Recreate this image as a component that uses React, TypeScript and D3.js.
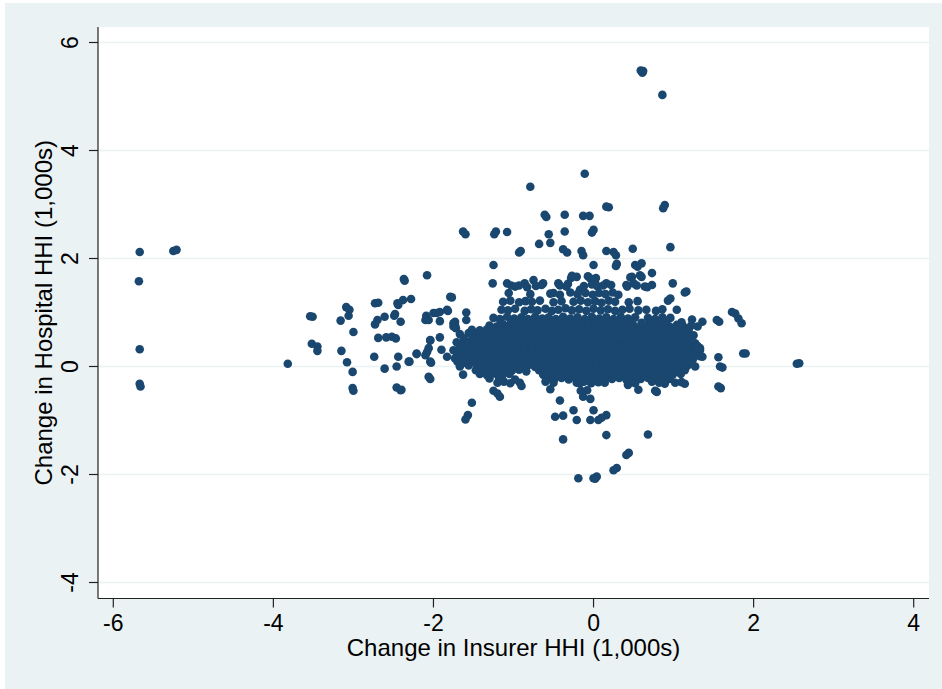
import React from "react";
import * as d3 from "d3";

// Change in insurer HHI (x) vs change in hospital HHI (y), both in 1,000s.
type Pt = [number, number];

const xTicks = [-6, -4, -2, 0, 2, 4];
const yTicks = [-4, -2, 0, 2, 4, 6];
const xTitle = "Change in Insurer HHI (1,000s)";
const yTitle = "Change in Hospital HHI (1,000s)";

const farLeftPoints: Pt[] = [
  [-5.67, 2.12], [-5.25, 2.14], [-5.21, 2.16], [-5.68, 1.58], [-5.67, 0.32],
  [-5.67, -0.32], [-5.66, -0.37], [-3.82, 0.05],
];

const leftClusterPoints: Pt[] = [
  [-3.54, 0.93], [-3.51, 0.92], [-3.52, 0.42], [-3.45, 0.37], [-3.45, 0.29],
  [-3.09, 1.10], [-3.05, 1.05], [-3.06, 0.94], [-3.16, 0.85], [-3.0, 0.64], [-3.15, 0.29],
  [-3.08, 0.08], [-3.01, -0.10], [-3.01, -0.40], [-3.0, -0.45],
  [-2.74, 0.18], [-2.73, 1.17], [-2.69, 1.18], [-2.70, 0.86], [-2.73, 0.78], [-2.61, 0.92],
  [-2.69, 0.53], [-2.59, 0.54], [-2.52, 0.55], [-2.47, 0.52], [-2.61, -0.04], [-2.49, 0.94],
  [-2.45, 1.17], [-2.46, 0.0], [-2.44, 0.18], [-2.46, -0.39], [-2.41, -0.44],
  [-2.48, 0.97], [-2.41, 0.83], [-2.44, 1.14], [-2.38, 1.23], [-2.28, 1.25], [-2.37, 1.62],
  [-2.36, 1.59], [-2.30, 0.09], [-2.21, 0.23], [-2.21, 0.24], [-2.31, 0.09], [-2.40, -0.43],
  [-2.08, 1.69], [-2.09, 0.94], [-2.06, 0.86], [-2.10, 0.86], [-2.0, 0.99], [-1.96, 0.99],
  [-1.92, 1.01], [-1.83, 1.05], [-1.82, 1.03], [-1.77, 1.28], [-1.79, 1.29], [-1.92, 0.84],
  [-1.75, 0.74], [-1.73, 0.83], [-1.75, 0.80], [-1.92, 0.54], [-2.04, 0.48], [-2.04, 0.49],
  [-2.08, 0.27], [-2.06, 0.34], [-2.10, 0.21], [-2.03, 0.07], [-2.04, 0.09], [-1.90, 0.31],
  [-1.83, 0.18], [-2.06, -0.19], [-2.04, -0.23], [-1.71, 0.27], [-1.70, 0.09],
  [-1.59, 1.0], [-1.59, 0.86], [-1.52, -0.67], [-1.60, -0.98], [-1.57, -0.90],
];

const upperOutlierPoints: Pt[] = [
  [0.59, 5.48], [0.61, 5.44], [0.62, 5.47], [0.86, 5.03], [-0.11, 3.57], [-0.79, 3.33],
  [-0.61, 2.81], [-0.59, 2.77], [-0.36, 2.81], [-0.13, 2.79], [-0.05, 2.79], [0.16, 2.96],
  [0.19, 2.95], [0.89, 2.99], [0.87, 2.93],
  [-0.56, 2.45], [-0.36, 2.50], [-0.02, 2.48], [0.0, 2.53], [-1.63, 2.50], [-1.60, 2.45],
  [-1.22, 2.50], [-1.24, 2.45], [-1.08, 2.49], [-0.93, 2.11], [-0.91, 2.14],
  [-0.68, 2.27], [-0.54, 2.29], [-0.38, 2.17], [-0.33, 2.11], [-0.15, 2.14], [-0.13, 2.06],
  [0.16, 2.14], [0.25, 2.12], [0.28, 2.06], [0.49, 2.18], [0.96, 2.21],
  [-1.25, 1.88], [0.0, 1.88], [0.29, 1.90], [0.28, 1.86], [0.52, 1.88], [0.60, 1.91], [0.55, 1.85],
];

const upperBandPoints: Pt[] = [
  [-1.26, 1.54], [-1.08, 1.54], [-0.98, 1.48], [-0.86, 1.54], [-0.75, 1.60], [-0.63, 1.54],
  [-0.50, 1.36], [-0.44, 1.54], [-0.34, 1.48], [-0.27, 1.68], [-0.17, 1.42], [-0.04, 1.63],
  [0.02, 1.55], [0.16, 1.54], [0.41, 1.51], [0.48, 1.66], [0.58, 1.69], [0.73, 1.73],
  [0.50, 1.54], [0.64, 1.48], [0.73, 1.51], [0.99, 1.54], [1.16, 1.39], [0.96, 1.26],
  [-0.28, 1.64], [-0.21, 1.66], [-0.07, 1.67], [0.03, 1.64], [0.46, 1.65], [0.60, 1.66],
  [-1.03, 1.50], [-0.93, 1.50], [-0.83, 1.47], [-0.72, 1.49], [-0.65, 1.51], [-0.42, 1.50],
  [-0.32, 1.53], [-0.12, 1.49], [-0.02, 1.52], [0.05, 1.48], [0.12, 1.50], [0.22, 1.51],
  [0.42, 1.48], [0.54, 1.50], [0.67, 1.47],
  [-1.06, 1.36], [-0.79, 1.34], [-0.54, 1.35], [-0.42, 1.33], [-0.29, 1.37], [-0.20, 1.34],
  [-0.10, 1.36], [-0.01, 1.33], [0.07, 1.36], [0.15, 1.34], [0.24, 1.37], [0.31, 1.33], [1.14, 1.37],
  [-1.13, 1.20], [-1.04, 1.22], [-0.93, 1.19], [-0.85, 1.21], [-0.77, 1.20], [-0.67, 1.22],
  [-0.50, 1.19], [-0.40, 1.21], [-0.25, 1.20], [-0.16, 1.22], [-0.07, 1.19], [0.02, 1.21],
  [0.10, 1.18], [0.19, 1.22], [0.27, 1.20], [0.44, 1.19], [0.55, 1.21], [0.93, 1.22],
];

const midBandPoints: Pt[] = [
  [-1.15, 1.05], [-1.07, 1.04], [-0.98, 1.07], [-0.86, 1.03], [-0.78, 1.06], [-0.70, 1.04],
  [-0.60, 1.07], [-0.52, 1.03], [-0.44, 1.05], [-0.35, 1.08], [-0.27, 1.04], [-0.18, 1.06],
  [-0.09, 1.03], [0.0, 1.07], [0.09, 1.04], [0.18, 1.06], [0.27, 1.03], [0.36, 1.05],
  [0.45, 1.07], [0.56, 1.04], [0.66, 1.05], [0.78, 1.03], [0.86, 1.06], [1.04, 1.05],
  [-1.25, 0.90], [-1.17, 0.88], [-1.08, 0.92], [-0.99, 0.89], [-0.90, 0.91], [-0.82, 0.88],
  [-0.73, 0.92], [-0.64, 0.89], [-0.56, 0.91], [-0.47, 0.88], [-0.38, 0.92], [-0.29, 0.89],
  [-0.20, 0.91], [-0.11, 0.88], [-0.02, 0.92], [0.07, 0.89], [0.16, 0.91], [0.25, 0.88],
  [0.34, 0.92], [0.43, 0.89], [0.52, 0.91], [0.68, 0.90], [0.77, 0.88], [0.86, 0.91],
  [0.96, 0.90], [1.23, 0.87], [1.36, 0.83],
  [-1.73, 0.77], [-1.72, 0.71], [-1.30, 0.76], [-1.21, 0.74], [-1.12, 0.77], [-1.03, 0.73],
  [-0.94, 0.76], [-0.85, 0.74], [-0.76, 0.77], [-0.67, 0.73], [-0.58, 0.76], [-0.49, 0.74],
  [-0.40, 0.77], [-0.31, 0.73], [-0.22, 0.76], [-0.13, 0.74], [-0.04, 0.77], [0.05, 0.73],
  [0.14, 0.76], [0.23, 0.74], [0.32, 0.77], [0.41, 0.73], [0.50, 0.76], [0.59, 0.74],
  [0.68, 0.77], [0.77, 0.73], [0.86, 0.76], [0.95, 0.74], [1.04, 0.77], [1.13, 0.73],
  [1.22, 0.76], [1.30, 0.74],
  [-1.67, 0.60], [-1.56, 0.62], [-1.46, 0.59], [-1.37, 0.61], [-1.28, 0.58], [-1.19, 0.62],
  [-1.10, 0.60], [-1.01, 0.58], [-0.92, 0.62], [-0.83, 0.59], [-0.74, 0.61], [-0.65, 0.58],
  [-0.56, 0.62], [-0.47, 0.60], [-0.38, 0.58], [-0.29, 0.62], [-0.20, 0.59], [-0.11, 0.61],
  [-0.02, 0.58], [0.07, 0.62], [0.16, 0.60], [0.25, 0.58], [0.34, 0.62], [0.43, 0.59],
  [0.52, 0.61], [0.61, 0.58], [0.70, 0.62], [0.79, 0.60], [0.88, 0.58], [0.97, 0.62],
  [1.06, 0.59], [1.15, 0.61], [1.25, 0.58],
];

const centerBandPoints: Pt[] = [
  [-1.71, 0.45], [-1.62, 0.43], [-1.53, 0.47], [-1.44, 0.44], [-1.35, 0.46], [-1.26, 0.43],
  [-1.17, 0.47], [-1.08, 0.44], [-0.99, 0.46], [-0.90, 0.43], [-0.81, 0.47], [-0.72, 0.44],
  [-0.63, 0.46], [-0.54, 0.43], [-0.45, 0.47], [-0.36, 0.44], [-0.27, 0.46], [-0.18, 0.43],
  [-0.09, 0.47], [0.0, 0.44], [0.09, 0.46], [0.18, 0.43], [0.27, 0.47], [0.36, 0.44],
  [0.45, 0.46], [0.54, 0.43], [0.63, 0.47], [0.72, 0.44], [0.81, 0.46], [0.90, 0.43],
  [0.99, 0.47], [1.08, 0.44], [1.17, 0.46], [1.27, 0.43],
  [-1.75, 0.30], [-1.66, 0.32], [-1.57, 0.29], [-1.48, 0.31], [-1.39, 0.28], [-1.30, 0.32],
  [-1.21, 0.29], [-1.12, 0.31], [-1.03, 0.28], [-0.94, 0.32], [-0.85, 0.29], [-0.76, 0.31],
  [-0.67, 0.28], [-0.58, 0.32], [-0.49, 0.29], [-0.40, 0.31], [-0.31, 0.28], [-0.22, 0.32],
  [-0.13, 0.29], [-0.04, 0.31], [0.05, 0.28], [0.14, 0.32], [0.23, 0.29], [0.32, 0.31],
  [0.41, 0.28], [0.50, 0.32], [0.59, 0.29], [0.68, 0.31], [0.77, 0.28], [0.86, 0.32],
  [0.95, 0.29], [1.04, 0.31], [1.13, 0.28], [1.22, 0.32], [1.33, 0.30],
  [-1.73, 0.15], [-1.64, 0.13], [-1.55, 0.17], [-1.46, 0.14], [-1.37, 0.16], [-1.28, 0.13],
  [-1.19, 0.17], [-1.10, 0.14], [-1.01, 0.16], [-0.92, 0.13], [-0.83, 0.17], [-0.74, 0.14],
  [-0.65, 0.16], [-0.56, 0.13], [-0.47, 0.17], [-0.38, 0.14], [-0.29, 0.16], [-0.20, 0.13],
  [-0.11, 0.17], [-0.02, 0.14], [0.07, 0.16], [0.16, 0.13], [0.25, 0.17], [0.34, 0.14],
  [0.43, 0.16], [0.52, 0.13], [0.61, 0.17], [0.70, 0.14], [0.79, 0.16], [0.88, 0.13],
  [0.97, 0.17], [1.06, 0.14], [1.15, 0.16], [1.24, 0.13], [1.36, 0.18],
  [-1.67, 0.0], [-1.56, 0.02], [-1.45, -0.01], [-1.36, 0.02], [-1.27, -0.01], [-1.18, 0.01],
  [-1.09, -0.02], [-1.00, 0.01], [-0.91, -0.01], [-0.82, 0.02], [-0.73, -0.01], [-0.64, 0.01],
  [-0.55, -0.02], [-0.46, 0.01], [-0.37, -0.01], [-0.28, 0.02], [-0.19, -0.01], [-0.10, 0.01],
  [-0.01, -0.02], [0.08, 0.01], [0.17, -0.01], [0.26, 0.02], [0.35, -0.01], [0.44, 0.01],
  [0.53, -0.02], [0.62, 0.01], [0.71, -0.01], [0.80, 0.02], [0.89, -0.01], [0.98, 0.01],
  [1.07, -0.02], [1.17, 0.01], [1.27, 0.0],
];

// Staggered markets lying between the rows above, which close up the dense core.
const coreFillPoints: Pt[] = [
  [-1.16, 0.83], [-1.03, 0.82], [-0.95, 0.84], [-0.87, 0.81], [-0.78, 0.83], [-0.69, 0.82],
  [-0.60, 0.84], [-0.51, 0.81], [-0.42, 0.83], [-0.33, 0.82], [-0.24, 0.84], [-0.15, 0.81],
  [-0.06, 0.83], [0.03, 0.82], [0.12, 0.84], [0.21, 0.81], [0.30, 0.83], [0.39, 0.82],
  [0.48, 0.84], [0.60, 0.81], [0.72, 0.83], [0.82, 0.82], [0.91, 0.84], [1.10, 0.82],
  [-1.52, 0.68], [-1.42, 0.67], [-1.33, 0.69], [-1.24, 0.66], [-1.15, 0.68], [-1.06, 0.67],
  [-0.97, 0.69], [-0.88, 0.66], [-0.79, 0.68], [-0.70, 0.67], [-0.61, 0.69], [-0.52, 0.66],
  [-0.43, 0.68], [-0.34, 0.67], [-0.25, 0.69], [-0.16, 0.66], [-0.07, 0.68], [0.02, 0.67],
  [0.11, 0.69], [0.20, 0.66], [0.29, 0.68], [0.38, 0.67], [0.47, 0.69], [0.56, 0.66],
  [0.65, 0.68], [0.74, 0.67], [0.83, 0.69], [0.92, 0.66], [1.01, 0.68], [1.10, 0.67], [1.19, 0.69],
  [-1.62, 0.52], [-1.51, 0.53], [-1.40, 0.51], [-1.31, 0.54], [-1.22, 0.52], [-1.13, 0.53],
  [-1.04, 0.51], [-0.95, 0.54], [-0.86, 0.52], [-0.77, 0.53], [-0.68, 0.51], [-0.59, 0.54],
  [-0.50, 0.52], [-0.41, 0.53], [-0.32, 0.51], [-0.23, 0.54], [-0.14, 0.52], [-0.05, 0.53],
  [0.04, 0.51], [0.13, 0.54], [0.22, 0.52], [0.31, 0.53], [0.40, 0.51], [0.49, 0.54],
  [0.58, 0.52], [0.67, 0.53], [0.76, 0.51], [0.85, 0.54], [0.94, 0.52], [1.03, 0.53],
  [1.12, 0.51], [1.21, 0.54],
  [-1.67, 0.37], [-1.58, 0.38], [-1.49, 0.36], [-1.40, 0.39], [-1.31, 0.37], [-1.22, 0.38],
  [-1.13, 0.36], [-1.04, 0.39], [-0.95, 0.37], [-0.86, 0.38], [-0.77, 0.36], [-0.68, 0.39],
  [-0.59, 0.37], [-0.50, 0.38], [-0.41, 0.36], [-0.32, 0.39], [-0.23, 0.37], [-0.14, 0.38],
  [-0.05, 0.36], [0.04, 0.39], [0.13, 0.37], [0.22, 0.38], [0.31, 0.36], [0.40, 0.39],
  [0.49, 0.37], [0.58, 0.38], [0.67, 0.36], [0.76, 0.39], [0.85, 0.37], [0.94, 0.38],
  [1.03, 0.36], [1.12, 0.39], [1.21, 0.37], [1.30, 0.38],
  [-1.70, 0.22], [-1.61, 0.23], [-1.52, 0.21], [-1.43, 0.24], [-1.34, 0.22], [-1.25, 0.23],
  [-1.16, 0.21], [-1.07, 0.24], [-0.98, 0.22], [-0.89, 0.23], [-0.80, 0.21], [-0.71, 0.24],
  [-0.62, 0.22], [-0.53, 0.23], [-0.44, 0.21], [-0.35, 0.24], [-0.26, 0.22], [-0.17, 0.23],
  [-0.08, 0.21], [0.01, 0.24], [0.10, 0.22], [0.19, 0.23], [0.28, 0.21], [0.37, 0.24],
  [0.46, 0.22], [0.55, 0.23], [0.64, 0.21], [0.73, 0.24], [0.82, 0.22], [0.91, 0.23],
  [1.00, 0.21], [1.09, 0.24], [1.18, 0.22], [1.28, 0.23],
  [-1.62, 0.07], [-1.51, 0.08], [-1.41, 0.06], [-1.32, 0.09], [-1.23, 0.07], [-1.14, 0.08],
  [-1.05, 0.06], [-0.96, 0.09], [-0.87, 0.07], [-0.78, 0.08], [-0.69, 0.06], [-0.60, 0.09],
  [-0.51, 0.07], [-0.42, 0.08], [-0.33, 0.06], [-0.24, 0.09], [-0.15, 0.07], [-0.06, 0.08],
  [0.03, 0.06], [0.12, 0.09], [0.21, 0.07], [0.30, 0.08], [0.39, 0.06], [0.48, 0.09],
  [0.57, 0.07], [0.66, 0.08], [0.75, 0.06], [0.84, 0.09], [0.93, 0.07], [1.02, 0.08],
  [1.12, 0.06], [1.22, 0.08],
  [-1.47, -0.07], [-1.38, -0.08], [-1.29, -0.06], [-1.20, -0.09], [-1.11, -0.07], [-1.02, -0.08],
  [-0.93, -0.06], [-0.84, -0.09], [-0.68, -0.07], [-0.59, -0.08], [-0.50, -0.06], [-0.41, -0.09],
  [-0.32, -0.07], [-0.23, -0.08], [-0.14, -0.06], [-0.05, -0.09], [0.04, -0.07], [0.13, -0.08],
  [0.22, -0.06], [0.31, -0.09], [0.40, -0.07], [0.49, -0.08], [0.58, -0.06], [0.67, -0.09],
  [0.76, -0.07], [0.85, -0.08], [0.94, -0.06], [1.04, -0.09], [1.14, -0.07],
  [-0.58, -0.22], [-0.49, -0.23], [-0.40, -0.21], [-0.31, -0.24], [-0.22, -0.22], [-0.13, -0.23],
  [-0.04, -0.21], [0.05, -0.24], [0.14, -0.22], [0.23, -0.23], [0.32, -0.21], [0.41, -0.24],
  [0.50, -0.22], [0.59, -0.23], [0.68, -0.21], [0.77, -0.24], [0.86, -0.22], [0.95, -0.23],
  [-1.30, -0.22], [-1.18, -0.21], [-0.98, -0.24],
];

const lowerBandPoints: Pt[] = [
  [-1.63, -0.15], [-1.42, -0.14], [-1.33, -0.16], [-1.24, -0.13], [-1.14, -0.16], [-1.05, -0.14],
  [-0.63, -0.15], [-0.54, -0.13], [-0.45, -0.16], [-0.36, -0.14], [-0.27, -0.16], [-0.18, -0.13],
  [-0.09, -0.15], [0.0, -0.14], [0.09, -0.16], [0.18, -0.13], [0.27, -0.15], [0.36, -0.14],
  [0.45, -0.16], [0.54, -0.13], [0.63, -0.15], [0.72, -0.14], [0.81, -0.16], [0.90, -0.13],
  [0.99, -0.15], [1.09, -0.14],
  [-1.20, -0.30], [-1.12, -0.28], [-1.04, -0.31], [-0.92, -0.30], [-0.60, -0.28], [-0.50, -0.30],
  [-0.21, -0.30], [-0.12, -0.28], [-0.03, -0.31], [0.06, -0.29], [0.14, -0.30], [0.43, -0.29],
  [0.52, -0.31], [0.73, -0.28], [0.82, -0.30], [0.89, -0.32], [1.02, -0.30], [1.10, -0.29],
  [-1.25, -0.45], [-1.20, -0.50], [-0.16, -0.45], [-0.08, -0.44], [0.56, -0.43], [0.77, -0.45],
  [-0.90, -0.36], [-0.54, -0.42], [-0.17, -0.31], [0.43, -0.34], [0.79, -0.47], [1.14, -0.32],
  [-1.17, -0.56], [-0.13, -0.56], [-0.04, -0.60], [-0.42, -0.63],
  [-0.48, -0.93], [-0.38, -0.91], [-0.25, -0.81], [-0.21, -0.99], [-0.04, -0.99], [0.0, -0.81],
  [0.16, -0.90], [0.06, -0.99], [0.10, -0.95], [0.16, -1.27], [0.68, -1.26], [-0.38, -1.35],
  [0.41, -1.64], [0.44, -1.60], [0.25, -1.92], [0.29, -1.88], [-0.19, -2.07], [0.0, -2.07],
  [0.04, -2.04], [0.02, -2.08],
];

const rightTailPoints: Pt[] = [
  [1.73, 1.01], [1.77, 0.98], [1.81, 0.89], [1.85, 0.80], [1.54, 0.86], [1.57, 0.83],
  [1.33, 0.34], [1.33, 0.19], [1.56, 0.17], [1.58, 0.0], [1.61, -0.02], [1.56, -0.37],
  [1.59, -0.40], [1.87, 0.24], [1.90, 0.24], [2.54, 0.05], [2.57, 0.06],
];

const allPoints: Pt[] = [
  ...farLeftPoints,
  ...leftClusterPoints,
  ...upperOutlierPoints,
  ...upperBandPoints,
  ...midBandPoints,
  ...centerBandPoints,
  ...coreFillPoints,
  ...lowerBandPoints,
  ...rightTailPoints,
];

const W = 942;
const H = 689;
const plot = { left: 98, right: 929, top: 27, bottom: 598.5 };

const x = d3.scaleLinear().domain([-6, 4]).range([113.3, 913.7]);
const y = d3.scaleLinear().domain([-4, 6]).range([582.5, 42.5]);

const BG = "#eaf2f3";
const MARKER = "#1a476f";
const FONT = "'Liberation Sans', Arial, Helvetica, sans-serif";

export default function App() {
  return (
    <div style={{ position: "absolute", left: 0, top: 0, width: W, height: H, background: "#fff" }}>
      <svg width={W} height={H} style={{ display: "block" }}>
        <rect x={5} y={3} width={W - 5} height={H - 3} fill={BG} />
        <rect
          x={plot.left}
          y={plot.top}
          width={plot.right - plot.left}
          height={plot.bottom - plot.top}
          fill="#fff"
        />
        {yTicks.map((t) => (
          <line
            key={`g${t}`}
            x1={plot.left}
            x2={plot.right}
            y1={y(t)}
            y2={y(t)}
            stroke={BG}
            strokeWidth={1.6}
          />
        ))}
        <g>
          {allPoints.map(([px, py], i) => (
            <circle key={i} cx={x(px)} cy={y(py)} r={4.3} fill={MARKER} />
          ))}
        </g>
        <line x1={plot.left} x2={plot.left} y1={plot.top} y2={plot.bottom} stroke="#222" strokeWidth={1.2} />
        <line x1={plot.left} x2={plot.right} y1={plot.bottom} y2={plot.bottom} stroke="#222" strokeWidth={1.2} />
        {yTicks.map((t) => (
          <g key={`yt${t}`}>
            <line x1={plot.left - 9} x2={plot.left} y1={y(t)} y2={y(t)} stroke="#222" strokeWidth={1.2} />
            <text
              transform={`translate(78,${y(t)}) rotate(-90)`}
              textAnchor="middle"
              fontFamily={FONT}
              fontSize={23}
              fill="#000"
            >
              {t}
            </text>
          </g>
        ))}
        {xTicks.map((t) => (
          <g key={`xt${t}`}>
            <line x1={x(t)} x2={x(t)} y1={plot.bottom} y2={plot.bottom + 9} stroke="#222" strokeWidth={1.2} />
            <text x={x(t)} y={631} textAnchor="middle" fontFamily={FONT} fontSize={23} fill="#000">
              {t}
            </text>
          </g>
        ))}
        <text
          x={(plot.left + plot.right) / 2}
          y={656}
          textAnchor="middle"
          fontFamily={FONT}
          fontSize={24}
          fill="#000"
        >
          {xTitle}
        </text>
        <text
          transform={`translate(52,${(plot.top + plot.bottom) / 2}) rotate(-90)`}
          textAnchor="middle"
          fontFamily={FONT}
          fontSize={24}
          fill="#000"
        >
          {yTitle}
        </text>
      </svg>
    </div>
  );
}
